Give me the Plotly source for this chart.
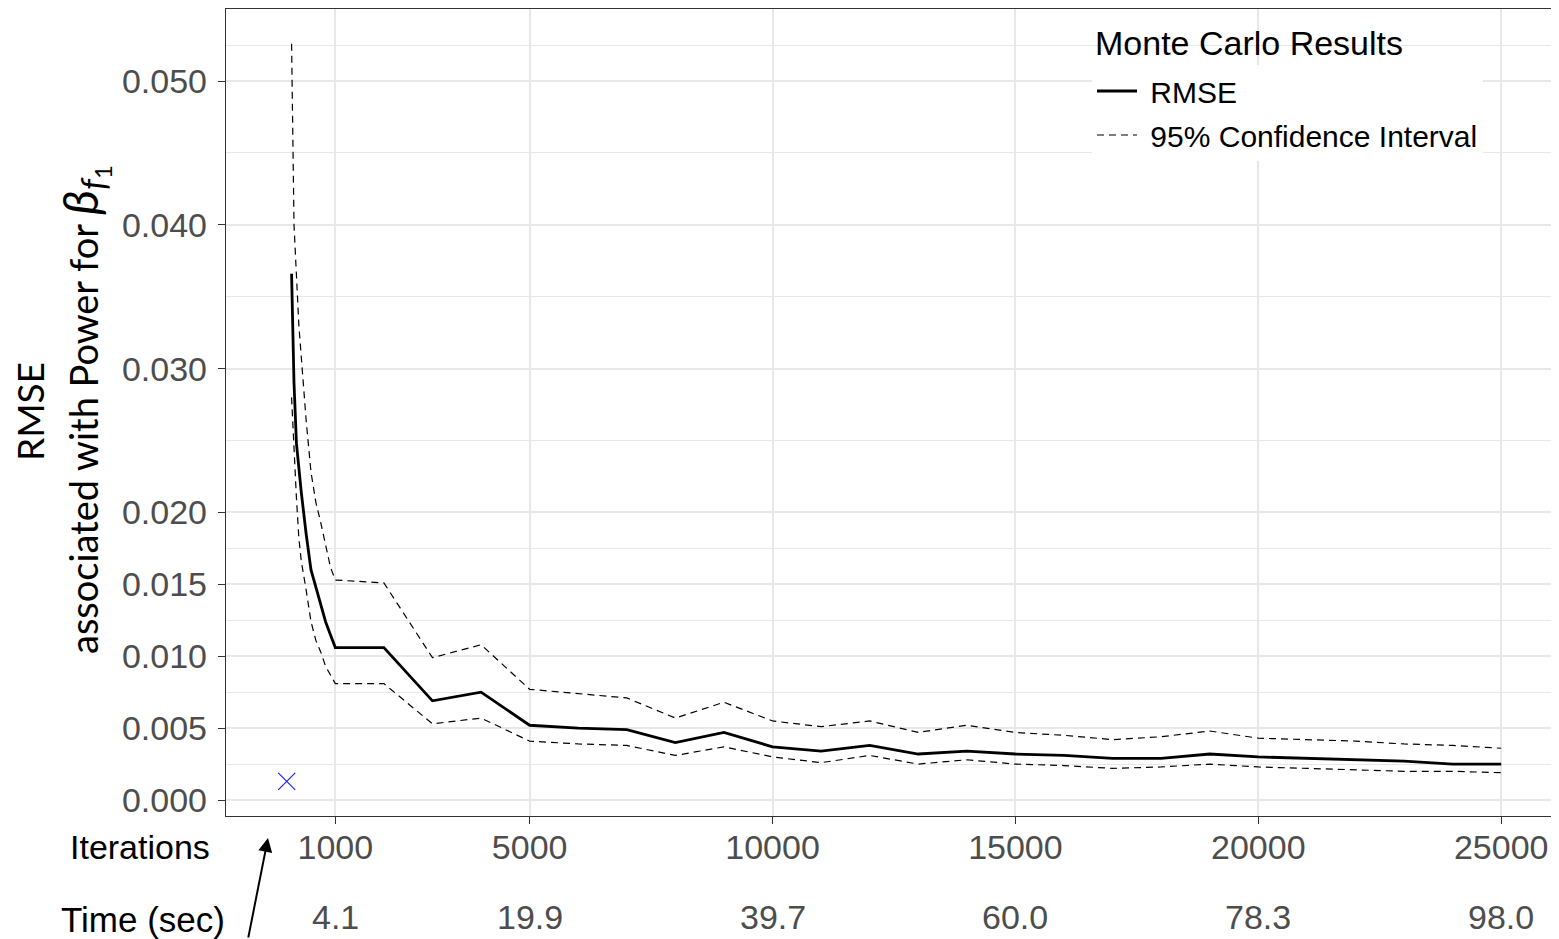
import plotly.graph_objects as go

# ---------------- data ----------------
iterations = [100, 150, 200, 250, 300, 400, 500, 600, 700, 800, 900, 1000,
              2000, 3000, 4000, 5000, 6000, 7000, 8000, 9000, 10000,
              11000, 12000, 13000, 14000, 15000, 16000, 17000, 18000, 19000, 20000,
              21000, 22000, 23000, 24000, 25000]
rmse = [0.0366, 0.0290, 0.0248, 0.0228, 0.0214, 0.0185, 0.0160, 0.0148, 0.0135, 0.0124, 0.0115, 0.0106,
        0.0106, 0.0069, 0.0075, 0.0052, 0.0050, 0.0049, 0.0040, 0.0047, 0.0037,
        0.0034, 0.0038, 0.0032, 0.0034, 0.0032, 0.0031, 0.0029, 0.0029, 0.0032, 0.0030,
        0.0029, 0.0028, 0.0027, 0.0025, 0.0025]
ci_upper = [0.0526, 0.0400, 0.0365, 0.0330, 0.0308, 0.0264, 0.0228, 0.0207, 0.0193, 0.0177, 0.0162, 0.0153,
            0.0151, 0.0099, 0.0108, 0.0077, 0.0074, 0.0071, 0.0057, 0.0068, 0.0055,
            0.0051, 0.0055, 0.0047, 0.0052, 0.0047, 0.0045, 0.0042, 0.0044, 0.0048, 0.0043,
            0.0042, 0.0041, 0.0039, 0.0038, 0.0036]
ci_lower = [0.0280, 0.0239, 0.0210, 0.0182, 0.0166, 0.0146, 0.0124, 0.0111, 0.0103, 0.0093, 0.0087, 0.0081,
            0.0081, 0.0053, 0.0057, 0.0041, 0.0039, 0.0038, 0.0031, 0.0037, 0.0030,
            0.0026, 0.0031, 0.0025, 0.0028, 0.0025, 0.0024, 0.0022, 0.0023, 0.0025, 0.0023,
            0.0022, 0.0021, 0.0020, 0.0020, 0.0019]
start_iter = [0]
start_rmse = [0.0013]

x_ticks = [1000, 5000, 10000, 15000, 20000, 25000]
x_ticklabels = ["1000", "5000", "10000", "15000", "20000", "25000"]
time_labels = ["4.1", "19.9", "39.7", "60.0", "78.3", "98.0"]
y_ticks = [0.0, 0.005, 0.010, 0.015, 0.020, 0.030, 0.040, 0.050]
y_ticklabels = ["0.000", "0.005", "0.010", "0.015", "0.020", "0.030", "0.040", "0.050"]
y_minor = [0.0025, 0.0075, 0.0125, 0.0175, 0.025, 0.035, 0.045, 0.0525]

# ---------------- figure ----------------
# the page body adds an 8px offset, so the figure is sized/positioned to compensate
OFF = 8
SW, SH = 1559, 939                      # screen size
W, H = SW - OFF, SH - OFF               # figure size
P_LEFT, P_TOP, P_RIGHT, P_BOTTOM = 226, 9, 1559, 816   # plot area in screen px
L, T = P_LEFT - OFF, P_TOP - OFF
R, B = (SW - P_RIGHT), (SH - P_BOTTOM)
pw, ph = P_RIGHT - P_LEFT, P_BOTTOM - P_TOP

def px(xs):
    return (xs - P_LEFT) / pw

def py(ys):
    return (P_BOTTOM - ys) / ph

TICK_FONT = dict(family="Liberation Sans, Arial", size=34, color="#4D4D4D")
GRID = "#E8E8E8"

fig = go.Figure()
fig.add_trace(go.Scatter(
    x=iterations, y=rmse, mode="lines", name="\u00a0RMSE",
    line=dict(color="black", width=2.8), legendgroup="rmse"))
fig.add_trace(go.Scatter(
    x=iterations, y=ci_upper, mode="lines", name="\u00a095% Confidence Interval",
    line=dict(color="black", width=1.2, dash="7px,5px"), legendgroup="ci"))
fig.add_trace(go.Scatter(
    x=iterations, y=ci_lower, mode="lines", name="\u00a095% Confidence Interval",
    line=dict(color="black", width=1.2, dash="7px,5px"), legendgroup="ci",
    showlegend=False))
fig.add_trace(go.Scatter(
    x=start_iter, y=start_rmse, mode="markers", showlegend=False,
    marker=dict(symbol="x-thin-open", size=17, color="#2020FF",
                line=dict(color="#2020FF", width=1.2))))

fig.update_xaxes(
    range=[-1250, 26190], tickmode="array", tickvals=x_ticks, ticktext=x_ticklabels,
    tickfont=TICK_FONT, ticks="outside", ticklen=7, tickcolor="#333333", tickwidth=1.1,
    showgrid=True, gridcolor=GRID, gridwidth=1.6, zeroline=False,
    showline=True, linecolor="#333333", linewidth=1.4, mirror=True,
    ticklabelstandoff=-6, automargin=False)
fig.update_yaxes(
    range=[-0.00111, 0.05501], tickmode="array", tickvals=y_ticks, ticktext=y_ticklabels,
    tickfont=TICK_FONT, ticks="outside", ticklen=7, tickcolor="#333333", tickwidth=1.1,
    showgrid=True, gridcolor=GRID, gridwidth=1.6, zeroline=False,
    showline=True, linecolor="#333333", linewidth=1.4,
    ticklabelstandoff=4, automargin=False,
    minor=dict(tickmode="array", tickvals=y_minor, showgrid=True, gridcolor=GRID,
               gridwidth=1.4, ticks=""))

annotations = []
# second row of x labels: time (sec)
for xv, t in zip(x_ticks, time_labels):
    annotations.append(dict(x=xv, y=py(917), xref="x", yref="paper", text=t,
                            showarrow=False, xanchor="center", yanchor="middle",
                            font=dict(family="Liberation Sans, Arial", size=34, color="#4D4D4D")))
annotations.append(dict(x=px(140), y=py(847), xref="paper", yref="paper", text="Iterations",
                        showarrow=False, xanchor="center", yanchor="middle",
                        font=dict(family="Liberation Sans, Arial", size=34, color="black")))
annotations.append(dict(x=px(143), y=py(919), xref="paper", yref="paper", text="Time (sec)",
                        showarrow=False, xanchor="center", yanchor="middle",
                        font=dict(family="Liberation Sans, Arial", size=35, color="black")))
# y-axis title (two lines)
annotations.append(dict(x=px(29), y=py(412), xref="paper", yref="paper", text="RMSE",
                        showarrow=False, textangle=-90, xanchor="center", yanchor="middle",
                        font=dict(family="Lato", size=37, color="black")))
annotations.append(dict(x=px(84), y=py(410), xref="paper", yref="paper",
                        text=("associated with Power for "
                              "<span style='font-size:48px'><i>β</i></span>"
                              "<sub><span style='font-size:34px'><i>f</i></span>"
                              "<sub><span style='font-size:24px'>1</span></sub></sub>"),
                        showarrow=False, textangle=-90, xanchor="center", yanchor="middle",
                        font=dict(family="Lato", size=38, color="black")))
# legend title
annotations.append(dict(x=px(1093), y=py(43), xref="paper", yref="paper",
                        text="Monte Carlo Results", showarrow=False,
                        xanchor="left", yanchor="middle",
                        font=dict(family="Liberation Sans, Arial", size=34, color="black")))
# arrow pointing at the starting point
annotations.append(dict(x=px(268), y=py(838), xref="paper", yref="paper", text="",
                        showarrow=True, ax=-20, ay=110, axref="pixel", ayref="pixel",
                        arrowhead=2, arrowsize=1.4, arrowwidth=2, arrowcolor="black",
                        standoff=0))

shapes = [dict(type="rect", xref="paper", yref="paper",
               x0=px(1080), x1=px(1496), y0=py(18), y1=py(66),
               fillcolor="white", line=dict(width=0), layer="below")]

fig.update_layout(
    width=W, height=H,
    margin=dict(l=L, r=R, t=T, b=B, pad=0, autoexpand=False),
    paper_bgcolor="white", plot_bgcolor="white",
    showlegend=True,
    legend=dict(
        x=px(1092), y=py(65), xanchor="left", yanchor="top",
        bgcolor="white", borderwidth=0,
        font=dict(family="Liberation Sans, Arial", size=30, color="black"),
        tracegroupgap=2, itemwidth=40),
    annotations=annotations,
    shapes=shapes,
)

fig.write_html("out.html")
